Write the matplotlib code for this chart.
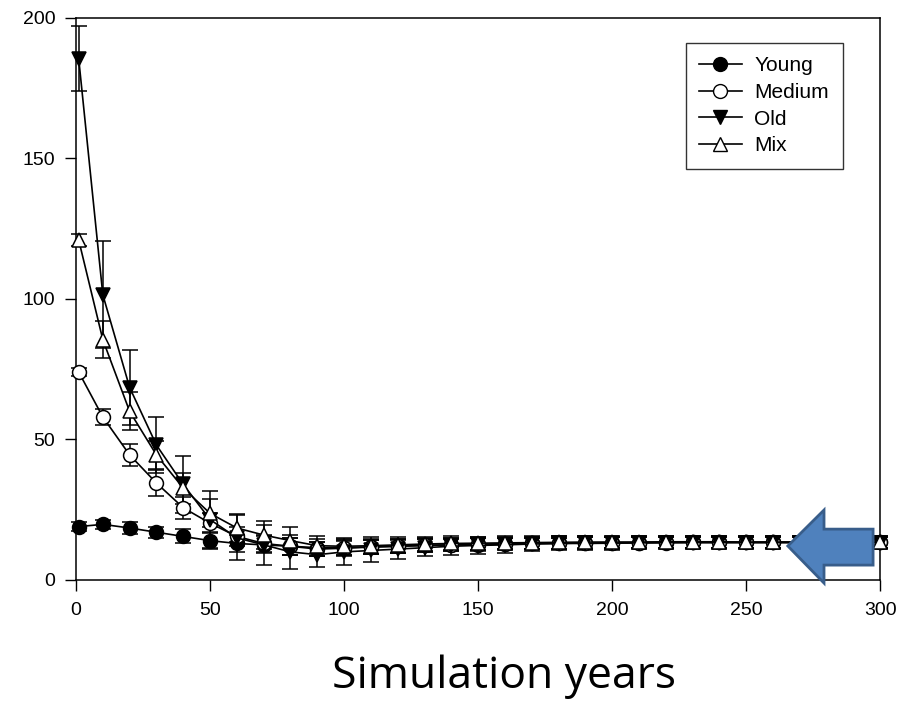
import matplotlib.pyplot as plt
from matplotlib.patches import Polygon
from matplotlib.lines import Line2D

# simulation years (first point at year 1, then every 10 years)
years = [1] + list(range(10, 301, 10))

young = [19, 19.8, 18.5, 17, 15.5, 14, 13, 12.5, 12, 11.5, 11.5, 11.8, 12, 12.3, 12.5,
         12.6, 12.8, 13, 13, 13.2, 13.2, 13.3, 13.3, 13.4, 13.4, 13.4, 13.4, 13.4, 13.4, 13.4, 13.4]
young_err = [1.5, 1.5, 2, 2, 2.5, 3, 3, 3, 3, 3, 2.8, 2.5, 2.5, 2.5, 2.3,
             2.2, 2.2, 2, 2, 2, 2, 2, 2, 2, 2, 2, 2, 2, 2, 2, 2]

medium = [74, 58, 44.5, 34.5, 25.7, 20.2, 15.5, 13, 12, 11, 11.3, 11.7, 12, 12.3, 12.5,
          12.7, 12.9, 13, 13.1, 13.2, 13.3, 13.3, 13.4, 13.4, 13.4, 13.4, 13.4, 13.4, 13.4, 13.4, 13.4]
medium_err = [1.5, 2.8, 4, 4.6, 4, 3.5, 3.5, 3, 3, 2.5, 2.5, 2.5, 2.3, 2.3, 2.2,
              2.2, 2, 2, 2, 2, 2, 2, 2, 2, 2, 2, 2, 2, 2, 2, 2]

old = [185.5, 101.5, 68.5, 48, 34, 21.5, 15, 12.5, 10, 9, 10, 10.5, 11, 11.5, 12,
       12.3, 12.5, 12.8, 13, 13, 13.1, 13.2, 13.3, 13.3, 13.3, 13.3, 13.3, 13.3, 13.3, 13.3, 13.3]
old_err = [11.5, 19, 13.5, 10, 10, 10, 8, 7, 6, 4.5, 4.5, 4, 3.5, 3, 3,
           3, 2.8, 2.5, 2.5, 2.5, 2.3, 2.3, 2.2, 2.2, 2.2, 2.2, 2.2, 2.2, 2.2, 2.2, 2.2]

mix = [121, 85.5, 60, 44.5, 32.7, 23.7, 18.5, 16, 14, 12.2, 12, 12.2, 12.5, 12.8, 13,
       13.1, 13.2, 13.3, 13.4, 13.5, 13.5, 13.5, 13.6, 13.6, 13.6, 13.5, 13.5, 13.5, 13.5, 13.5, 13.5]
mix_err = [2, 6.5, 6.8, 5, 5.5, 5, 5, 5, 5, 3.5, 3, 3, 2.8, 2.5, 2.5,
           2.3, 2.3, 2.2, 2.2, 2.2, 2.2, 2.2, 2.2, 2.2, 2.2, 2.2, 2.2, 2.2, 2.2, 2.2, 2.2]

series = [
    ("Young", young, young_err, "o", "black"),
    ("Medium", medium, medium_err, "o", "white"),
    ("Old", old, old_err, "v", "black"),
    ("Mix", mix, mix_err, "^", "white"),
]

plt.rcParams['font.family'] = ['Liberation Sans', 'DejaVu Sans']

fig = plt.figure(figsize=(9.17, 7.02), dpi=100)
ax = fig.add_axes([0.0829, 0.1738, 0.8771, 0.8006])

handles = []
for name, vals, err, mk, fc in series:
    ax.errorbar(years, vals, yerr=err, color="black", lw=1.2, marker=mk,
                markersize=10, markerfacecolor=fc, markeredgecolor="black",
                markeredgewidth=1.1, capsize=6, elinewidth=1.1, capthick=1.1,
                clip_on=False, zorder=3)
    handles.append(Line2D([], [], color="black", lw=1.2, marker=mk, markersize=10,
                          markerfacecolor=fc, markeredgecolor="black", label=name))

ax.set_xlim(0, 300)
ax.set_ylim(0, 200)
ax.set_xticks(range(0, 301, 50))
ax.set_yticks(range(0, 201, 50))
ax.tick_params(direction="out", length=8, width=1, labelsize=14)
ax.tick_params(axis="y", pad=7)
ax.tick_params(axis="x", pad=8)
for sp in ax.spines.values():
    sp.set_linewidth(1.1)

leg = ax.legend(handles=handles, loc="upper right", bbox_to_anchor=(0.953, 0.956),
                borderaxespad=0, fancybox=False, fontsize=15, handlelength=2.05,
                labelspacing=0.37, handletextpad=0.6, borderpad=0.65)
leg.get_frame().set_edgecolor("black")
leg.get_frame().set_linewidth(1)

fig.text(0.550, 0.02, "Simulation years", family=["Open Sans", "DejaVu Sans"],
         fontsize=32, ha="center", va="baseline")

# blue arrow pointing at the steady state
tip_x, tip_y = 265.5, 12.1
head_x, head_top, head_bot = 279, 24.9, -1.1
tail_x, body_top, body_bot = 297.3, 18.1, 5.3
arrow = Polygon([(tip_x, tip_y), (head_x, head_top), (head_x, body_top),
                 (tail_x, body_top), (tail_x, body_bot), (head_x, body_bot),
                 (head_x, head_bot)], closed=True, facecolor="#4F81BD",
                edgecolor="#385D8A", lw=2, clip_on=False, zorder=10)
ax.add_patch(arrow)

fig.savefig("out.png", dpi=100)
